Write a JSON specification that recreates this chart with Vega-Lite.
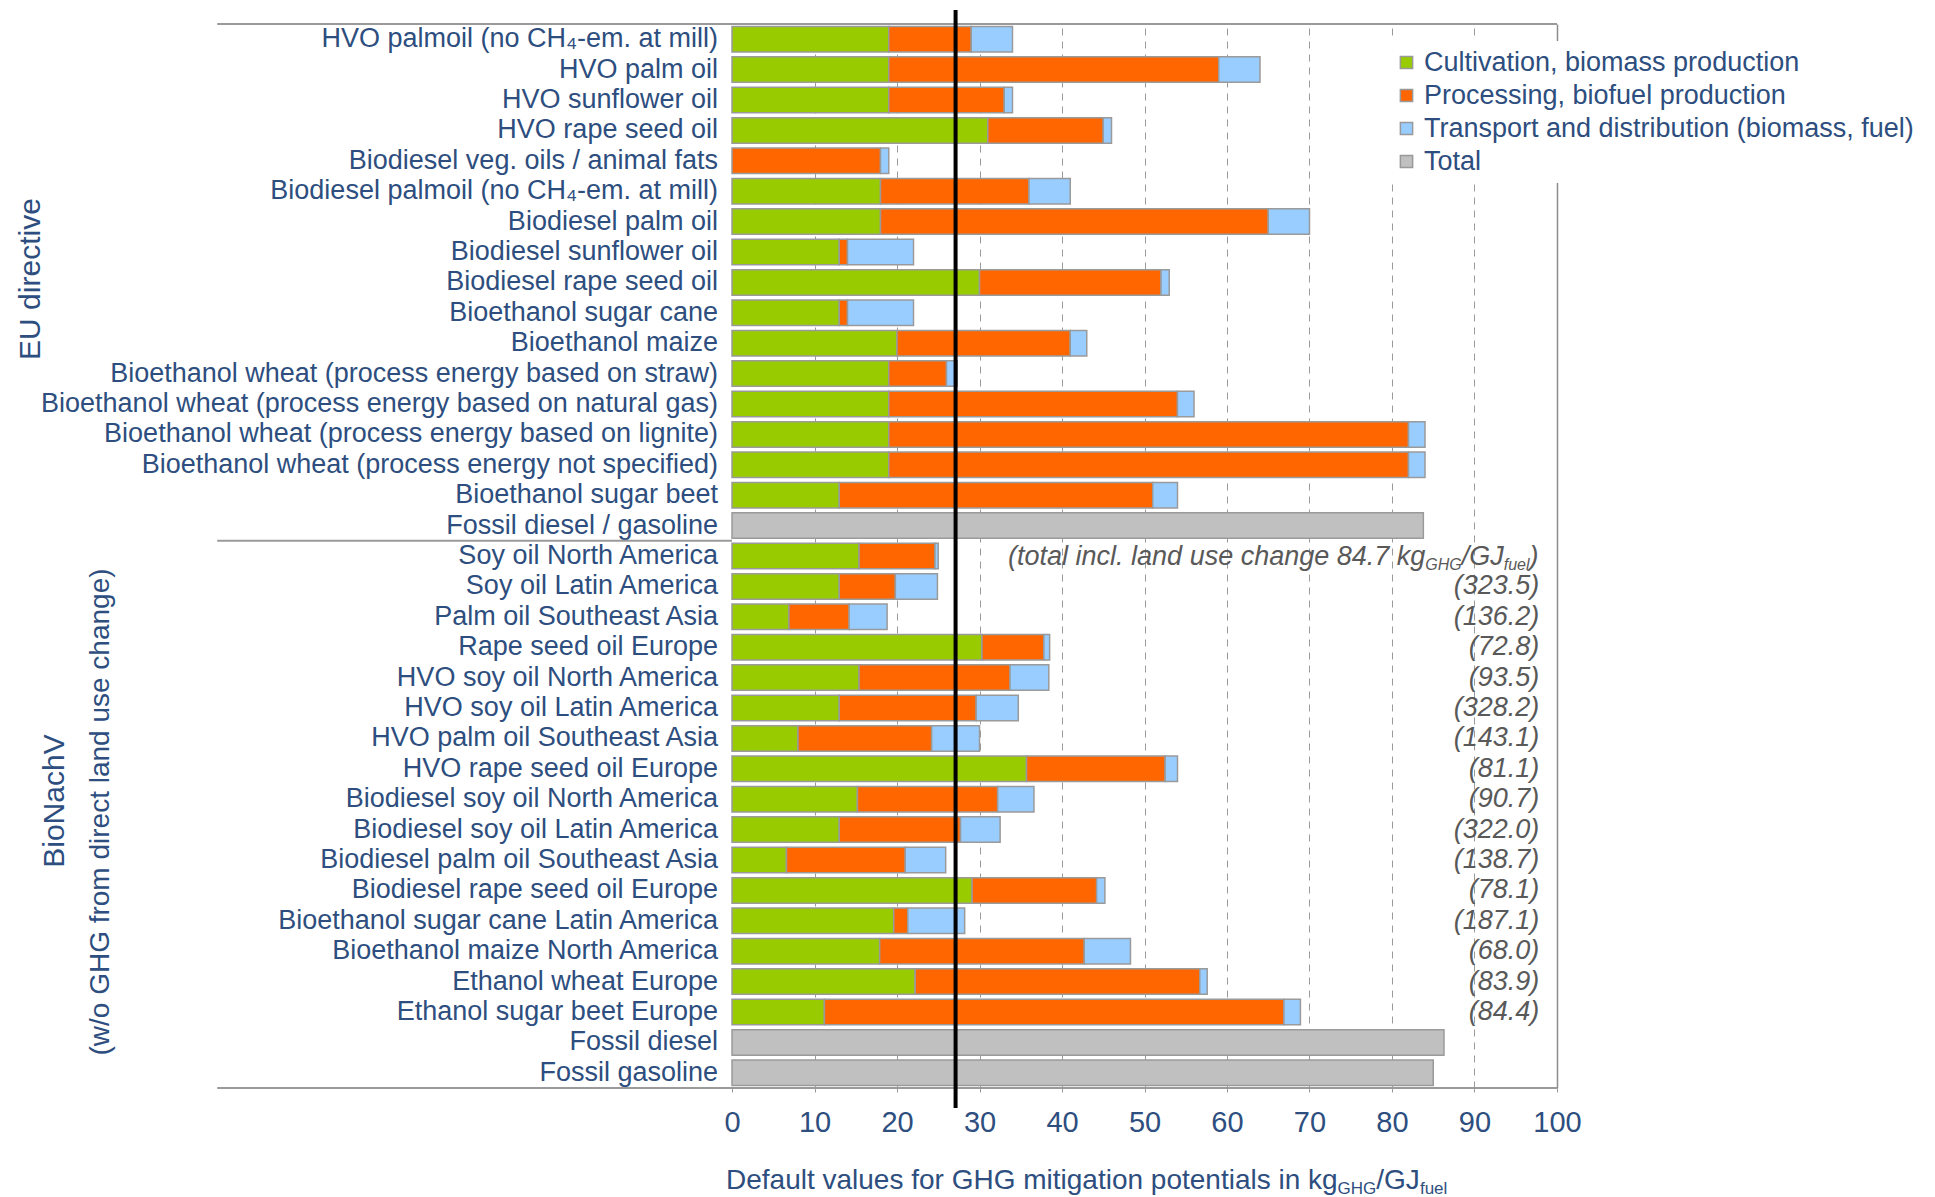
{
  "$schema": "https://vega.github.io/schema/vega-lite/v6.json",
  "width": 1935,
  "height": 1064,
  "padding": {"left": 0, "top": 7, "right": 0, "bottom": 0},
  "background": "white",
  "config": {
    "view": {"stroke": null},
    "text": {"font": "Liberation Sans"},
    "axis": {"labelFont": "Liberation Sans"}
  },
  "datasets": {
    "one": [{}],
    "rows": [
      {"label": "HVO palmoil (no CH₄-em. at mill)", "cultivation": 19, "processing": 10, "transport": 5},
      {"label": "HVO palm oil", "cultivation": 19, "processing": 40, "transport": 5},
      {"label": "HVO sunflower oil", "cultivation": 19, "processing": 14, "transport": 1},
      {"label": "HVO rape seed oil", "cultivation": 31, "processing": 14, "transport": 1},
      {"label": "Biodiesel veg. oils / animal fats", "processing": 18, "transport": 1},
      {"label": "Biodiesel palmoil (no CH₄-em. at mill)", "cultivation": 18, "processing": 18, "transport": 5},
      {"label": "Biodiesel palm oil", "cultivation": 18, "processing": 47, "transport": 5},
      {"label": "Biodiesel sunflower oil", "cultivation": 13, "processing": 1, "transport": 8},
      {"label": "Biodiesel rape seed oil", "cultivation": 30, "processing": 22, "transport": 1},
      {"label": "Bioethanol sugar cane", "cultivation": 13, "processing": 1, "transport": 8},
      {"label": "Bioethanol maize", "cultivation": 20, "processing": 21, "transport": 2},
      {"label": "Bioethanol wheat (process energy based on straw)", "cultivation": 19, "processing": 7, "transport": 1.3},
      {"label": "Bioethanol wheat (process energy based on natural gas)", "cultivation": 19, "processing": 35, "transport": 2},
      {"label": "Bioethanol wheat (process energy based on lignite)", "cultivation": 19, "processing": 63, "transport": 2},
      {"label": "Bioethanol wheat (process energy not specified)", "cultivation": 19, "processing": 63, "transport": 2},
      {"label": "Bioethanol sugar beet", "cultivation": 13, "processing": 38, "transport": 3},
      {"label": "Fossil diesel / gasoline", "total": 83.8},
      {"label": "Soy oil North America", "cultivation": 15.4, "processing": 9.2, "transport": 0.4},
      {"label": "Soy oil Latin America", "cultivation": 13.0, "processing": 6.8, "transport": 5.1, "note": "(323.5)"},
      {"label": "Palm oil Southeast Asia", "cultivation": 6.9, "processing": 7.3, "transport": 4.6, "note": "(136.2)"},
      {"label": "Rape seed oil Europe", "cultivation": 30.3, "processing": 7.5, "transport": 0.7, "note": "(72.8)"},
      {"label": "HVO soy oil North America", "cultivation": 15.4, "processing": 18.3, "transport": 4.7, "note": "(93.5)"},
      {"label": "HVO soy oil Latin America", "cultivation": 13.0, "processing": 16.6, "transport": 5.1, "note": "(328.2)"},
      {"label": "HVO palm oil Southeast Asia", "cultivation": 8.0, "processing": 16.2, "transport": 5.8, "note": "(143.1)"},
      {"label": "HVO rape seed oil Europe", "cultivation": 35.7, "processing": 16.8, "transport": 1.5, "note": "(81.1)"},
      {"label": "Biodiesel soy oil North America", "cultivation": 15.2, "processing": 17.0, "transport": 4.4, "note": "(90.7)"},
      {"label": "Biodiesel soy oil Latin America", "cultivation": 13.0, "processing": 14.7, "transport": 4.8, "note": "(322.0)"},
      {"label": "Biodiesel palm oil Southeast Asia", "cultivation": 6.6, "processing": 14.4, "transport": 4.9, "note": "(138.7)"},
      {"label": "Biodiesel rape seed oil Europe", "cultivation": 29.1, "processing": 15.1, "transport": 1.0, "note": "(78.1)"},
      {"label": "Bioethanol sugar cane Latin America", "cultivation": 19.6, "processing": 1.7, "transport": 6.9, "note": "(187.1)"},
      {"label": "Bioethanol maize North America", "cultivation": 17.9, "processing": 24.8, "transport": 5.6, "note": "(68.0)"},
      {"label": "Ethanol wheat Europe", "cultivation": 22.2, "processing": 34.5, "transport": 0.9, "note": "(83.9)"},
      {"label": "Ethanol sugar beet Europe", "cultivation": 11.2, "processing": 55.7, "transport": 2.0, "note": "(84.4)"},
      {"label": "Fossil diesel", "total": 86.3},
      {"label": "Fossil gasoline", "total": 85.0}
    ]
  },
  "layer": [
    {
      "layer": [
        {
          "data": {"name": "rows"},
          "transform": [
            {"fold": ["cultivation", "processing", "transport", "total"], "as": ["component", "value"]},
            {"filter": "datum.value > 0"}
          ],
          "mark": {"type": "bar", "height": {"band": 0.84}, "stroke": "#9a9a9a", "strokeWidth": 1.5},
          "encoding": {
            "y": {
              "field": "label", "type": "nominal", "axis": null,
              "scale": {
                "paddingInner": 0, "paddingOuter": 0,
                "domain": [
                  "HVO palmoil (no CH₄-em. at mill)", "HVO palm oil", "HVO sunflower oil", "HVO rape seed oil",
                  "Biodiesel veg. oils / animal fats", "Biodiesel palmoil (no CH₄-em. at mill)", "Biodiesel palm oil",
                  "Biodiesel sunflower oil", "Biodiesel rape seed oil", "Bioethanol sugar cane", "Bioethanol maize",
                  "Bioethanol wheat (process energy based on straw)", "Bioethanol wheat (process energy based on natural gas)",
                  "Bioethanol wheat (process energy based on lignite)", "Bioethanol wheat (process energy not specified)",
                  "Bioethanol sugar beet", "Fossil diesel / gasoline", "Soy oil North America", "Soy oil Latin America",
                  "Palm oil Southeast Asia", "Rape seed oil Europe", "HVO soy oil North America", "HVO soy oil Latin America",
                  "HVO palm oil Southeast Asia", "HVO rape seed oil Europe", "Biodiesel soy oil North America",
                  "Biodiesel soy oil Latin America", "Biodiesel palm oil Southeast Asia", "Biodiesel rape seed oil Europe",
                  "Bioethanol sugar cane Latin America", "Bioethanol maize North America", "Ethanol wheat Europe",
                  "Ethanol sugar beet Europe", "Fossil diesel", "Fossil gasoline"
                ]
              }
            },
            "x": {
              "field": "value", "type": "quantitative", "stack": "zero",
              "scale": {"domain": [-88.73, 145.82], "nice": false, "zero": false},
              "axis": {
                "values": [0, 10, 20, 30, 40, 50, 60, 70, 80, 90, 100],
                "title": null, "domain": false, "grid": true, "format": "d",
                "gridColor": {"condition": {"test": "datum.value === 100", "value": "#8c8c8c"}, "value": "#9a9a9a"},
                "gridDash": {"condition": {"test": "datum.value === 100", "value": []}, "value": [7, 6]},
                "gridOpacity": {"condition": {"test": "datum.value === 0", "value": 0}, "value": 1},
                "gridWidth": {"condition": {"test": "datum.value === 100", "value": 1.5}, "value": 1},
                "ticks": true, "tickSize": 4, "tickColor": "#9a9a9a",
                "labelFontSize": 29, "labelColor": "#2d4e7e", "labelPadding": 16, "labelFont": "Liberation Sans"
              }
            },
            "color": {
              "field": "component", "type": "nominal",
              "scale": {"domain": ["cultivation", "processing", "transport", "total"], "range": ["#99cc00", "#ff6600", "#99ccff", "#c0c0c0"]},
              "legend": {
                "title": null, "orient": "none", "legendX": 1385, "legendY": 17,
                "fillColor": "white", "padding": 8, "zindex": 1,
                "labelFontSize": 27, "labelColor": "#2d4e7e", "labelFont": "Liberation Sans", "labelLimit": 700,
                "symbolType": "square", "symbolSize": 150, "symbolStrokeColor": "#999999", "symbolStrokeWidth": 1.5,
                "rowPadding": 5,
                "labelExpr": "datum.label == 'cultivation' ? 'Cultivation, biomass production' : datum.label == 'processing' ? 'Processing, biofuel production' : datum.label == 'transport' ? 'Transport and distribution (biomass, fuel)' : 'Total'"
              }
            }
          }
        },
        {
          "data": {"name": "rows"},
          "mark": {"type": "text", "align": "right", "baseline": "middle", "fontSize": 27, "color": "#2d4e7e", "font": "Liberation Sans"},
          "encoding": {
            "y": {"field": "label", "type": "nominal", "axis": null},
            "x": {"datum": -1.7},
            "text": {"field": "label"}
          }
        },
        {
          "data": {"name": "rows"},
          "transform": [{"filter": "datum.note != null"}],
          "mark": {"type": "text", "align": "right", "baseline": "middle", "fontSize": 27, "fontStyle": "italic", "color": "#595959", "font": "Liberation Sans"},
          "encoding": {
            "y": {"field": "label", "type": "nominal", "axis": null},
            "x": {"datum": 97.85},
            "text": {"field": "note"}
          }
        },
        {
          "data": {"name": "one"},
          "mark": {"type": "text", "text": "(total incl. land use change 84.7 kg", "align": "left", "baseline": "alphabetic", "fontSize": 27, "fontStyle": "italic", "color": "#595959", "dy": 9},
          "encoding": {"y": {"datum": "Soy oil North America", "type": "nominal", "axis": null}, "x": {"datum": 33.46}}
        },
        {
          "data": {"name": "one"},
          "mark": {"type": "text", "text": "GHG", "align": "left", "baseline": "alphabetic", "fontSize": 16, "fontStyle": "italic", "color": "#595959", "dy": 14, "dx": 417.2},
          "encoding": {"y": {"datum": "Soy oil North America", "type": "nominal", "axis": null}, "x": {"datum": 33.46}}
        },
        {
          "data": {"name": "one"},
          "mark": {"type": "text", "text": "/GJ", "align": "left", "baseline": "alphabetic", "fontSize": 27, "fontStyle": "italic", "color": "#595959", "dy": 9, "dx": 453.7},
          "encoding": {"y": {"datum": "Soy oil North America", "type": "nominal", "axis": null}, "x": {"datum": 33.46}}
        },
        {
          "data": {"name": "one"},
          "mark": {"type": "text", "text": "fuel", "align": "left", "baseline": "alphabetic", "fontSize": 16, "fontStyle": "italic", "color": "#595959", "dy": 14, "dx": 495.7},
          "encoding": {"y": {"datum": "Soy oil North America", "type": "nominal", "axis": null}, "x": {"datum": 33.46}}
        },
        {
          "data": {"name": "one"},
          "mark": {"type": "text", "text": ")", "align": "left", "baseline": "alphabetic", "fontSize": 27, "fontStyle": "italic", "color": "#595959", "dy": 9, "dx": 521.5},
          "encoding": {"y": {"datum": "Soy oil North America", "type": "nominal", "axis": null}, "x": {"datum": 33.46}}
        }
      ]
    },
    {
      "layer": [
        {
          "data": {"name": "one"},
          "mark": {"type": "rule", "color": "#9a9a9a", "strokeWidth": 2},
          "encoding": {
            "x": {"datum": -62.4}, "x2": {"datum": 100},
            "y": {"datum": 1, "axis": null, "scale": {"domain": [0, 1], "nice": false, "zero": false}}
          }
        },
        {
          "data": {"name": "one"},
          "mark": {"type": "rule", "color": "#9a9a9a", "strokeWidth": 2},
          "encoding": {
            "x": {"datum": -62.4}, "x2": {"datum": 0},
            "y": {"datum": 0.51429, "axis": null, "scale": {"domain": [0, 1], "nice": false, "zero": false}}
          }
        },
        {
          "data": {"name": "one"},
          "mark": {"type": "rule", "color": "#9a9a9a", "strokeWidth": 2},
          "encoding": {
            "x": {"datum": -62.4}, "x2": {"datum": 100},
            "y": {"datum": 0, "axis": null, "scale": {"domain": [0, 1], "nice": false, "zero": false}}
          }
        },
        {
          "data": {"name": "one"},
          "mark": {"type": "rule", "color": "black", "strokeWidth": 4},
          "encoding": {
            "x": {"datum": 27.1},
            "y": {"datum": 1.0132, "axis": null, "scale": {"domain": [0, 1], "nice": false, "zero": false}},
            "y2": {"datum": -0.0188}
          }
        },
        {
          "data": {"name": "one"},
          "mark": {"type": "text", "text": "EU directive", "angle": 270, "align": "center", "baseline": "middle", "fontSize": 30, "color": "#2d4e7e"},
          "encoding": {
            "x": {"datum": -84.97},
            "y": {"datum": 0.7603, "axis": null, "scale": {"domain": [0, 1], "nice": false, "zero": false}}
          }
        },
        {
          "data": {"name": "one"},
          "mark": {"type": "text", "text": "BioNachV", "angle": 270, "align": "center", "baseline": "middle", "fontSize": 30, "color": "#2d4e7e"},
          "encoding": {
            "x": {"datum": -82.06},
            "y": {"datum": 0.2697, "axis": null, "scale": {"domain": [0, 1], "nice": false, "zero": false}}
          }
        },
        {
          "data": {"name": "one"},
          "mark": {"type": "text", "text": "(w/o GHG from direct land use change)", "angle": 270, "align": "center", "baseline": "middle", "fontSize": 28, "color": "#2d4e7e"},
          "encoding": {
            "x": {"datum": -76.48},
            "y": {"datum": 0.2594, "axis": null, "scale": {"domain": [0, 1], "nice": false, "zero": false}}
          }
        },
        {
          "data": {"name": "one"},
          "mark": {"type": "text", "text": "Default values for GHG mitigation potentials in kg", "align": "left", "baseline": "alphabetic", "fontSize": 28, "color": "#2d4e7e", "dx": -6},
          "encoding": {
            "x": {"datum": 0},
            "y": {"datum": -0.0949, "axis": null, "scale": {"domain": [0, 1], "nice": false, "zero": false}}
          }
        },
        {
          "data": {"name": "one"},
          "mark": {"type": "text", "text": "GHG", "align": "left", "baseline": "alphabetic", "fontSize": 17, "color": "#2d4e7e", "dx": 605.6, "dy": 5},
          "encoding": {
            "x": {"datum": 0},
            "y": {"datum": -0.0949, "axis": null, "scale": {"domain": [0, 1], "nice": false, "zero": false}}
          }
        },
        {
          "data": {"name": "one"},
          "mark": {"type": "text", "text": "/GJ", "align": "left", "baseline": "alphabetic", "fontSize": 28, "color": "#2d4e7e", "dx": 644.3},
          "encoding": {
            "x": {"datum": 0},
            "y": {"datum": -0.0949, "axis": null, "scale": {"domain": [0, 1], "nice": false, "zero": false}}
          }
        },
        {
          "data": {"name": "one"},
          "mark": {"type": "text", "text": "fuel", "align": "left", "baseline": "alphabetic", "fontSize": 17, "color": "#2d4e7e", "dx": 687.9, "dy": 5},
          "encoding": {
            "x": {"datum": 0},
            "y": {"datum": -0.0949, "axis": null, "scale": {"domain": [0, 1], "nice": false, "zero": false}}
          }
        }
      ]
    }
  ],
  "resolve": {"scale": {"y": "independent"}}
}
